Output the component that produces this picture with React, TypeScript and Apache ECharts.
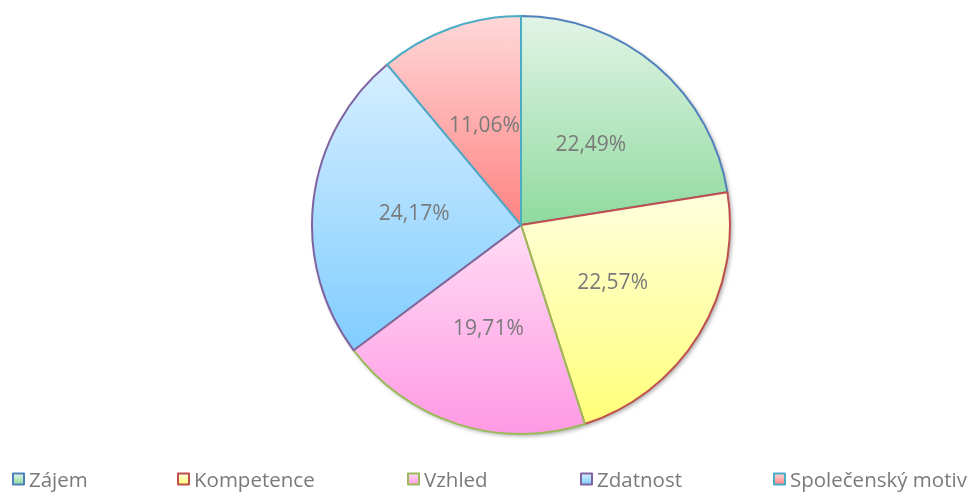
import React, { useEffect, useRef } from "react";
import * as echarts from "echarts";

const categories = ["Zájem", "Kompetence", "Vzhled", "Zdatnost", "Společenský motiv"];
const values = [22.49, 22.57, 19.71, 24.17, 11.06];
const borderColors = ["#4F81BD", "#C0504D", "#9BBB59", "#8064A2", "#4BACC6"];
const gradTop = ["#e2f4e6", "#ffffde", "#ffdcf5", "#d6eeff", "#ffd8d8"];
const gradBottom = ["#8fda9e", "#ffff78", "#ff99e4", "#80cdff", "#ff8282"];
const legendLeft = [12, 177, 407, 580, 773];

const grad = (i: number) =>
  new echarts.graphic.LinearGradient(0, 0, 0, 1, [
    { offset: 0, color: gradTop[i] },
    { offset: 1, color: gradBottom[i] },
  ]);

export default function App() {
  const ref = useRef<HTMLDivElement>(null);
  useEffect(() => {
    if (!ref.current) return;
    const chart = echarts.init(ref.current, null, { renderer: "svg" });
    const font = "'Open Sans', 'Noto Sans', sans-serif";
    chart.setOption({
      animation: false,
      legend: categories.map((c, i) => ({
        left: legendLeft[i],
        top: 468,
        icon: "rect",
        itemWidth: 11,
        itemHeight: 11,
        itemGap: 0,
        padding: 0,
        selectedMode: false,
        textStyle: { fontFamily: font, fontSize: 20.5, color: "#7a7a7a", lineHeight: 22 },
        data: [
          {
            name: c,
            itemStyle: { color: grad(i), borderColor: borderColors[i], borderWidth: 2 },
          },
        ],
      })),
      series: [
        {
          type: "pie",
          silent: true,
          center: [521, 225],
          radius: 209,
          label: { show: false },
          labelLine: { show: false },
          itemStyle: {
            color: "#ffffff",
            shadowBlur: 4,
            shadowOffsetX: 2,
            shadowOffsetY: 2,
            shadowColor: "rgba(0,0,0,0.35)",
          },
          data: [{ value: 1, name: "_bg" }],
        },
        {
          type: "pie",
          center: [521, 225],
          radius: 209,
          startAngle: 90,
          clockwise: true,
          label: {
            show: true,
            position: "inside",
            fontFamily: font,
            fontSize: 21,
            color: "#7a7a7a",
            formatter: (p: any) => p.value.toFixed(2).replace(".", ",") + "%",
          },
          labelLine: { show: false },
          emphasis: { disabled: true },
          data: categories.map((c, i) => ({
            name: c,
            value: values[i],
            itemStyle: { color: grad(i), borderColor: borderColors[i], borderWidth: 2 },
          })),
        },
      ],
    });
    return () => chart.dispose();
  }, []);
  return (
    <div
      ref={ref}
      style={{ position: "fixed", left: 0, top: 0, width: 975, height: 493 }}
    />
  );
}
